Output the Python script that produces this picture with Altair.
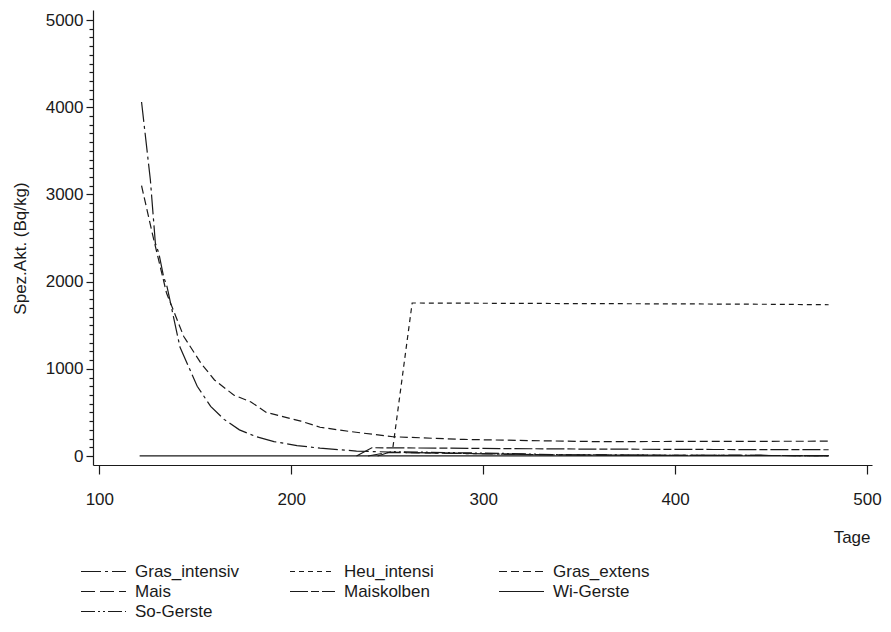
import altair as alt
import pandas as pd

series_names = ["Gras_intensiv", "Heu_intensi", "Gras_extens", "Mais", "Maiskolben", "Wi-Gerste", "So-Gerste"]
dashes = [[20, 4, 3, 4], [5, 4], [8, 4], [14, 5], [18, 3, 8, 3], [1, 0], [14, 3, 2, 3, 2, 3]]

gi_days = [122, 126.6, 129.2, 131, 133.5, 135.3, 142, 151, 158, 165, 173, 182, 191, 203, 215, 234, 260, 300, 340, 400, 480]
gi_vals = [4060, 3165, 2440, 2325, 2056, 1940, 1250, 800, 570, 420, 300, 220, 165, 120, 90, 57, 40, 25, 12, 8, 5]

heu_days = [253, 263, 300, 350, 400, 450, 480]
heu_vals = [103, 1755, 1752, 1748, 1745, 1740, 1735]

ge_days = [122, 126, 128, 135, 144, 153, 160, 170, 179, 187, 205, 215, 231, 253, 290, 330, 360, 420, 480]
ge_vals = [3100, 2710, 2515, 1870, 1370, 1063, 872, 700, 620, 500, 400, 330, 280, 221, 190, 175, 165, 168, 170]

mais_days = [240, 250, 290, 330, 400, 480]
mais_vals = [0, 40, 30, 15, 8, 5]

mk_days = [234, 242, 280, 350, 420, 480]
mk_vals = [0, 95, 90, 80, 75, 72]

wg_days = [121, 250, 480]
wg_vals = [2, 2, 2]

sg_days = [245, 252, 280, 310, 340, 400, 480]
sg_vals = [0, 50, 40, 30, 15, 8, 5]

x_ticks = [100, 200, 300, 400, 500]
y_ticks = list(range(0, 5001, 100))

all_series = [
    ("Gras_intensiv", gi_days, gi_vals),
    ("Heu_intensi", heu_days, heu_vals),
    ("Gras_extens", ge_days, ge_vals),
    ("Mais", mais_days, mais_vals),
    ("Maiskolben", mk_days, mk_vals),
    ("Wi-Gerste", wg_days, wg_vals),
    ("So-Gerste", sg_days, sg_vals),
]
rows = []
for name, ds, vs in all_series:
    for d, v in zip(ds, vs):
        rows.append({"series": name, "day": d, "value": v})
df = pd.DataFrame(rows)

FONT = "Liberation Sans"
INK = "#1a1a1a"

chart = alt.Chart(df).mark_line(color=INK, strokeWidth=1.2).encode(
    x=alt.X("day:Q",
            scale=alt.Scale(domain=[96.7, 502.6], nice=False, zero=False),
            axis=alt.Axis(values=x_ticks, format="d", title="Tage", tickSize=9,
                          labelPadding=17, titleAnchor="end", titleAlign="right",
                          titleX=777, titleY=72, titleBaseline="middle",
                          labelFlush=False, grid=False)),
    y=alt.Y("value:Q",
            scale=alt.Scale(domain=[-103, 5115], nice=False, zero=False),
            axis=alt.Axis(values=y_ticks, format="d",
                          labelExpr="datum.value % 1000 === 0 ? datum.label : ''",
                          labelOverlap=False, labelFlush=False,
                          tickSize={"condition": {"test": "datum.value % 1000 === 0", "value": 7}, "value": 4},
                          labelPadding=3, title="Spez.Akt. (Bq/kg)",
                          titleAngle=270, titleX=-73, titleY=238, titleAlign="center",
                          titleBaseline="middle", grid=False)),
    strokeDash=alt.StrokeDash("series:N",
                              sort=series_names,
                              scale=alt.Scale(domain=series_names, range=dashes),
                              legend=alt.Legend(orient="none", legendX=-13, legendY=553,
                                                direction="horizontal",
                                                columns=3, title=None, symbolType="stroke",
                                                symbolSize=2025, symbolStrokeWidth=1.2,
                                                symbolStrokeColor=INK, labelFont=FONT,
                                                labelFontSize=17, labelColor=INK,
                                                columnPadding=50, rowPadding=2,
                                                clipHeight=17,
                                                gridAlign="all", labelOffset=8,
                                                labelLimit=300)),
).properties(
    width=779, height=455,
    autosize=alt.AutoSizeParams(type="none"),
    padding={"left": 85, "top": 2, "right": 10, "bottom": 155},
).configure_view(stroke=None).configure_axis(
    domainColor=INK, tickColor=INK, labelColor=INK, titleColor=INK,
    labelFont=FONT, titleFont=FONT, labelFontSize=17, titleFontSize=17,
    titleFontWeight="normal", domainWidth=1.2, tickWidth=1.2,
)

chart.save("out.html", embed_options={"renderer": "svg", "actions": False})
